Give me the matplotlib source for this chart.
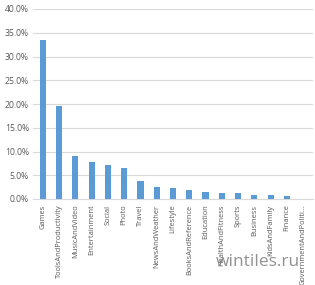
import matplotlib.pyplot as plt
from matplotlib.ticker import PercentFormatter

categories = ['Games', 'ToolsAndProductivity', 'MusicAndVideo', 'Entertainment', 'Social',
              'Photo', 'Travel', 'NewsAndWeather', 'Lifestyle', 'BooksAndReference',
              'Education', 'HealthAndFitness', 'Sports', 'Business', 'KidsAndFamily',
              'Finance', 'GovernmentAndPoliti...']
shares = [33.4, 19.5, 9.15, 7.7, 7.2, 6.5, 3.75, 2.45, 2.3, 2.0,
          1.5, 1.25, 1.2, 0.85, 0.85, 0.62, 0.05]
yticks = [0, 5, 10, 15, 20, 25, 30, 35, 40]

plt.rcParams['font.family'] = ['Open Sans', 'DejaVu Sans']

fig = plt.figure(figsize=(3.15, 2.85), dpi=100)
ax = fig.add_axes([33/315, 1 - 199/285, 280/315, 190/285])

x = range(len(categories))
ax.bar(x, shares, width=0.38, color='#5B9BD5', zorder=3)

ax.set_ylim(0, 40)
ax.set_yticks(yticks)
ax.yaxis.set_major_formatter(PercentFormatter(decimals=1))
ax.set_xlim(-0.6, len(categories) - 0.4)
ax.set_xticks(list(x))
ax.set_xticklabels(categories, rotation=90)
ax.tick_params(axis='both', colors='#595959', length=0)
ax.tick_params(axis='x', labelsize=5.4, pad=4)
ax.tick_params(axis='y', labelsize=6.2, pad=3)
ax.grid(axis='y', color='#d9d9d9', linewidth=0.8, zorder=0)
for s in ['top', 'right', 'left']:
    ax.spines[s].set_visible(False)
ax.spines['bottom'].set_color('#d9d9d9')

fig.text(258/315, 1 - 262/285, 'wintiles.ru', fontsize=12.5, color='#7f7f7f',
         ha='center', va='center', alpha=0.85)

fig.savefig('out.png', dpi=100)
